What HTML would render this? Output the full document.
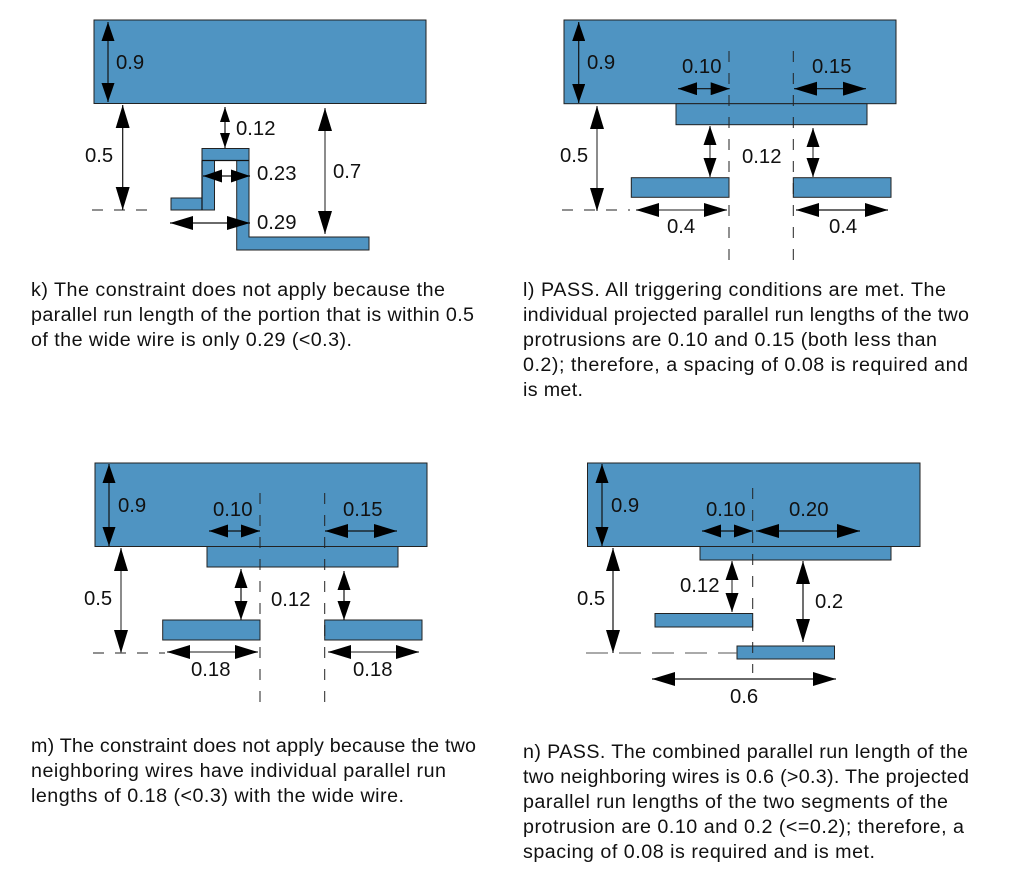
<!DOCTYPE html>
<html><head><meta charset="utf-8"><style>
html,body{margin:0;padding:0;background:#fff}
svg{display:block}
text{font-family:"Liberation Sans",sans-serif;fill:#111}
.d{font-size:20.3px}
.b{font-size:19.7px}
.r{fill:#4f94c2;stroke:#222;stroke-width:1}
.a{stroke:#111;stroke-width:1.2;fill:none}
.g{stroke:#666;stroke-width:1.5;fill:none}
.l{marker-start:url(#L);marker-end:url(#L)}
.m{marker-start:url(#M);marker-end:url(#M)}
.s{marker-start:url(#S);marker-end:url(#S)}
.h{stroke:#222;stroke-width:1;stroke-dasharray:11 11;fill:none}
</style></head><body>
<svg width="1013" height="888" viewBox="0 0 1013 888" xmlns="http://www.w3.org/2000/svg">
<defs>
<marker id="L" markerUnits="userSpaceOnUse" markerWidth="24" markerHeight="14" refX="23" refY="7" orient="auto-start-reverse"><path d="M0 0L23 7L0 14Z" fill="#000"/></marker>
<marker id="M" markerUnits="userSpaceOnUse" markerWidth="20" markerHeight="13" refX="19" refY="6.5" orient="auto-start-reverse"><path d="M0 0L19 6.5L0 13Z" fill="#000"/></marker>
<marker id="S" markerUnits="userSpaceOnUse" markerWidth="15" markerHeight="10" refX="15" refY="5" orient="auto-start-reverse"><path d="M0 0L15 5L0 10Z" fill="#000"/></marker>
</defs>

<!-- k -->
<rect class="r" x="94" y="20" width="332" height="83.5"/>
<path class="r" d="M202 148.5H249V237H369V250H236.7V160.5H214.5V210H171V198H202Z"/>
<path class="a" d="M202 160.5H249M202 198V210M202 160.5V198"/>
<path class="h" d="M92 210H155"/>
<path class="a m" d="M108 22V102"/>
<path class="a l" d="M122.7 105V210"/>
<path class="a s" d="M225 107V148"/>
<path class="g l" d="M325 108V234"/>
<path class="a m" d="M203 176H250"/>
<path class="a l" d="M170 223H250"/>
<text class="d" x="116" y="69">0.9</text>
<text class="d" x="85" y="162">0.5</text>
<text class="d" x="236" y="135">0.12</text>
<text class="d" x="257" y="180">0.23</text>
<text class="d" x="257" y="229">0.29</text>
<text class="d" x="333" y="178">0.7</text>
<text class="b" x="31" y="296" textLength="414">k) The constraint does not apply because the</text>
<text class="b" x="31" y="321" textLength="443">parallel run length of the portion that is within 0.5</text>
<text class="b" x="31" y="346" textLength="321">of the wide wire is only 0.29 (&lt;0.3).</text>

<!-- l -->
<rect class="r" x="564" y="20" width="332" height="83.7"/>
<rect class="r" x="676" y="103.7" width="191" height="21"/>
<rect class="r" x="631.3" y="177.7" width="97.7" height="19.6"/>
<rect class="r" x="793.3" y="177.7" width="97.7" height="19.6"/>
<path class="h" d="M729 51V260M793.3 51V260"/>
<path class="h" d="M562 210H630"/>
<path class="a m" d="M578.7 22V103"/>
<path class="g l" d="M597 106V211"/>
<path class="a m" d="M678 88.7H729.7"/>
<path class="a l" d="M794 88.7H866"/>
<path class="g m" d="M710 126V177"/>
<path class="g m" d="M813 128V177"/>
<path class="g l" d="M636 210H727"/>
<path class="a l" d="M796 210H888"/>
<text class="d" x="587" y="69">0.9</text>
<text class="d" x="682" y="73">0.10</text>
<text class="d" x="812" y="73">0.15</text>
<text class="d" x="742" y="163">0.12</text>
<text class="d" x="560" y="162">0.5</text>
<text class="d" x="667" y="233">0.4</text>
<text class="d" x="829" y="233">0.4</text>
<text class="b" x="523" y="296" textLength="423">l) PASS. All triggering conditions are met. The</text>
<text class="b" x="523" y="321" textLength="446">individual projected parallel run lengths of the two</text>
<text class="b" x="523" y="346" textLength="414">protrusions are 0.10 and 0.15 (both less than</text>
<text class="b" x="523" y="371" textLength="445">0.2); therefore, a spacing of 0.08 is required and</text>
<text class="b" x="523" y="396" textLength="60">is met.</text>

<!-- m -->
<rect class="r" x="95" y="463" width="332" height="83.5"/>
<rect class="r" x="207" y="546.5" width="191" height="20.5"/>
<rect class="r" x="162.7" y="620" width="97.3" height="20"/>
<rect class="r" x="324.7" y="620" width="97.3" height="20"/>
<path class="h" d="M260 493V703M324.7 493V703"/>
<path class="h" d="M93 653H165"/>
<path class="a m" d="M109 464V546"/>
<path class="g l" d="M121 548V653"/>
<path class="a m" d="M209 531H260"/>
<path class="a l" d="M325 531H397"/>
<path class="a m" d="M241 569V620"/>
<path class="a m" d="M344 571V620"/>
<path class="g l" d="M167 652H258"/>
<path class="g l" d="M328 652H419"/>
<text class="d" x="118" y="512">0.9</text>
<text class="d" x="213" y="516">0.10</text>
<text class="d" x="343" y="516">0.15</text>
<text class="d" x="271" y="606">0.12</text>
<text class="d" x="84" y="605">0.5</text>
<text class="d" x="191" y="676">0.18</text>
<text class="d" x="353" y="676">0.18</text>
<text class="b" x="31" y="752" textLength="445">m) The constraint does not apply because the two</text>
<text class="b" x="31" y="777" textLength="415">neighboring wires have individual parallel run</text>
<text class="b" x="31" y="802" textLength="373">lengths of 0.18 (&lt;0.3) with the wide wire.</text>

<!-- n -->
<rect class="r" x="587.5" y="463" width="332.5" height="83.5"/>
<rect class="r" x="700" y="546.5" width="191" height="13.5"/>
<rect class="r" x="655" y="613.5" width="97.7" height="13.5"/>
<rect class="r" x="737" y="646" width="97.5" height="13"/>
<path class="h" d="M752.7 488V673"/>
<path class="h" style="stroke:#555;stroke-dasharray:22 11" d="M586 653H737"/>
<path class="a m" d="M602 464V546"/>
<path class="a l" d="M613 548V653"/>
<path class="a m" d="M702 531H753"/>
<path class="a l" d="M756 531H860"/>
<path class="g m" d="M732 561V612"/>
<path class="a l" d="M803 561V642"/>
<path class="a l" d="M652 679H836"/>
<text class="d" x="611" y="512">0.9</text>
<text class="d" x="706" y="516">0.10</text>
<text class="d" x="789" y="516">0.20</text>
<text class="d" x="680" y="592">0.12</text>
<text class="d" x="815" y="608">0.2</text>
<text class="d" x="577" y="605">0.5</text>
<text class="d" x="730" y="703">0.6</text>
<text class="b" x="523" y="758" textLength="445">n) PASS. The combined parallel run length of the</text>
<text class="b" x="523" y="783" textLength="446">two neighboring wires is 0.6 (&gt;0.3). The projected</text>
<text class="b" x="523" y="808" textLength="425">parallel run lengths of the two segments of the</text>
<text class="b" x="523" y="833" textLength="441">protrusion are 0.10 and 0.2 (&lt;=0.2); therefore, a</text>
<text class="b" x="523" y="858" textLength="352">spacing of 0.08 is required and is met.</text>
</svg>
</body></html>
